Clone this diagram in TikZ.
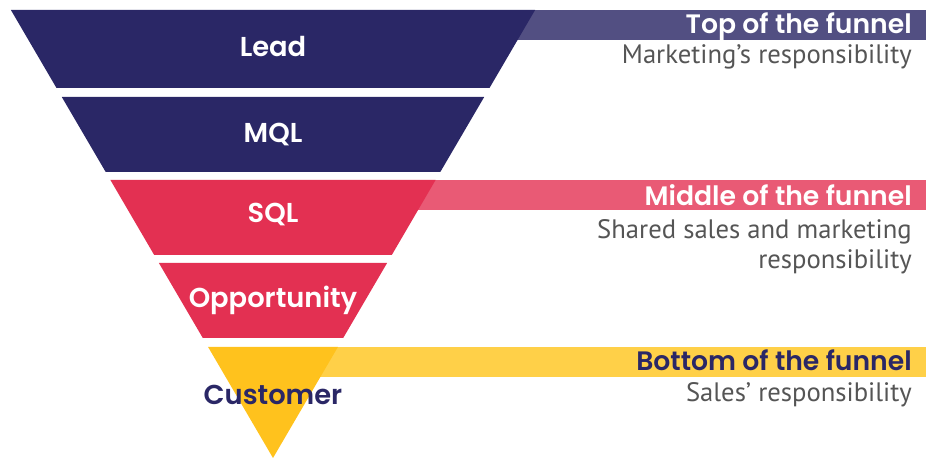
\documentclass[tikz,border=0pt]{standalone}
\usepackage{fontspec}
\setmainfont{Poppins}[BoldFont={Poppins SemiBold}]
\newfontfamily\notefont{PT Sans}
\definecolor{navy}{HTML}{2A2766}
\definecolor{rose}{HTML}{E33052}
\definecolor{gold}{HTML}{FFC21D}
\definecolor{navyband}{HTML}{524F82}
\definecolor{roseband}{HTML}{E95A75}
\definecolor{goldband}{HTML}{FFD048}
\definecolor{notegray}{HTML}{555555}
\tikzset{
  stage/.style={font=\fontsize{20.5}{24}\selectfont\bfseries, text=white},
  header/.style={anchor=base east, inner sep=0pt, font=\fontsize{20}{24}\selectfont\bfseries},
  note/.style={anchor=base east, inner sep=0pt, text=notegray, font=\notefont\fontsize{20}{24}\selectfont},
}
\begin{document}
\begin{tikzpicture}[x=0.75pt, y=-0.75pt]
  \useasboundingbox (0,0) rectangle (926,459);
  % level bands behind the funnel
  \fill[navyband] (400,10) rectangle (926,40);
  \fill[roseband] (330,180) rectangle (926,210);
  \fill[goldband] (300,347) rectangle (926,377);
  % funnel slices
  \fill[navy] (10.9,10) -- (535.1,10) -- (489.5,88) -- (56.5,88) -- cycle;
  \fill[navy] (61.8,97) -- (484.2,97) -- (440.3,172) -- (105.7,172) -- cycle;
  \fill[rose] (110.4,180) -- (435.6,180) -- (391.8,255) -- (154.2,255) -- cycle;
  \fill[rose] (158.9,263) -- (387.1,263) -- (343.2,338) -- (202.8,338) -- cycle;
  \fill[gold] (208.1,347) -- (337.9,347) -- (273,458) -- cycle;
  % stage labels
  \node[stage] (lead) at (273,47) {Lead};
  \node[stage] (mql) at (273,135) {MQL};
  \node[stage] (sql) at (273,215) {SQL};
  \node[stage] (opp) at (273,300) {Opportunity};
  \node[stage, text=navy] (cust) at (273,395) {Customer};
  % responsibility notes
  \node[header, text=white] (toph) at (912,33.5) {Top of the funnel};
  \node[note] (topn) at (912,64) {Marketing’s responsibility};
  \node[header, text=white] (midh) at (912,206) {Middle of the funnel};
  \node[note] (midn1) at (912,239) {Shared sales and marketing};
  \node[note] (midn2) at (912,269) {responsibility};
  \node[header, text=navy] (both) at (912,371) {Bottom of the funnel};
  \node[note] (botn) at (912,402) {Sales’ responsibility};
\end{tikzpicture}
\end{document}
